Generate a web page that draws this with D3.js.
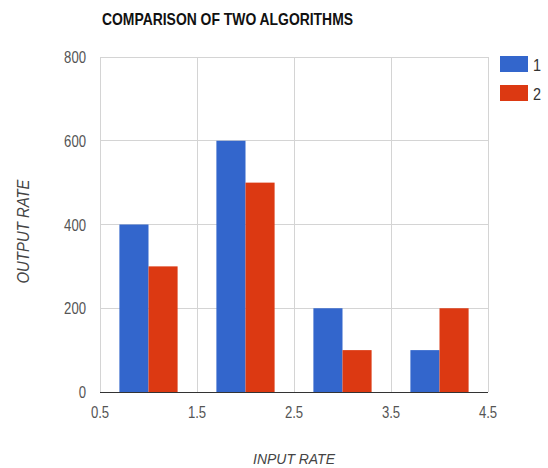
<!DOCTYPE html>
<html>
<head>
<meta charset="utf-8">
<script src="https://cdn.jsdelivr.net/npm/d3@7"></script>
<style>
  body { margin: 0; background: #fff; }
  svg text { font-family: "Liberation Sans", Arial, sans-serif; }
</style>
</head>
<body>
<svg id="chart" width="548" height="468"></svg>
<script>
// Input rates (category positions on the x axis)
const inputRates = [1, 2, 3, 4];
// Output rate for each algorithm
const series1 = [400, 600, 200, 100];
const series2 = [300, 500, 100, 200];
const seriesNames = ["1", "2"];
const seriesColors = ["#3366cc", "#dc3912"];
const xTicks = [0.5, 1.5, 2.5, 3.5, 4.5];
const yTicks = [0, 200, 400, 600, 800];

const svg = d3.select("#chart");
const margin = { left: 100, right: 60, top: 57, bottom: 76 };
const W = 548, H = 468;

const x = d3.scaleLinear().domain([0.5, 4.5]).range([margin.left, W - margin.right]);
const y = d3.scaleLinear().domain([0, 800]).range([H - margin.bottom, margin.top]);

// narrow the glyphs of a text selection to a fraction of their natural width
function condense(sel, k) {
  sel.each(function () {
    const w = this.getComputedTextLength();
    d3.select(this).attr("textLength", w * k).attr("lengthAdjust", "spacingAndGlyphs");
  });
}

// gridlines
svg.append("g").selectAll("line").data(yTicks.filter(d => d > 0)).join("line")
  .attr("x1", x(0.5)).attr("x2", x(4.5))
  .attr("y1", d => y(d)).attr("y2", d => y(d))
  .attr("stroke", "#d4d4d4").attr("stroke-width", 1).attr("shape-rendering", "crispEdges");
svg.append("g").selectAll("line").data(xTicks).join("line")
  .attr("x1", d => x(d)).attr("x2", d => x(d))
  .attr("y1", y(0)).attr("y2", y(800))
  .attr("stroke", "#d4d4d4").attr("stroke-width", 1).attr("shape-rendering", "crispEdges");

// bars
const barW = 0.3;
const rows = inputRates.map((r, i) => ({ r, v: [series1[i], series2[i]] }));
rows.forEach(row => {
  row.v.forEach((v, s) => {
    svg.append("rect")
      .attr("x", x(row.r - barW + s * barW))
      .attr("width", x(row.r + barW) - x(row.r))
      .attr("y", y(v))
      .attr("height", y(0) - y(v))
      .attr("fill", seriesColors[s]);
  });
});

// baseline
svg.append("line")
  .attr("x1", x(0.5)).attr("x2", x(4.5))
  .attr("y1", y(0)).attr("y2", y(0))
  .attr("stroke", "#333").attr("stroke-width", 1).attr("shape-rendering", "crispEdges");

// tick labels
svg.append("g").selectAll("text").data(yTicks).join("text")
  .attr("x", x(0.5) - 14).attr("y", d => y(d) + 6)
  .attr("text-anchor", "end").attr("font-size", 16).attr("fill", "#555")
  .text(d => d)
  .call(condense, 0.82);
svg.append("g").selectAll("text").data(xTicks).join("text")
  .attr("x", d => x(d)).attr("y", y(0) + 26)
  .attr("text-anchor", "middle").attr("font-size", 16).attr("fill", "#555")
  .text(d => d3.format(".1f")(d))
  .call(condense, 0.82);

// axis titles
svg.append("text")
  .attr("x", x(2.5)).attr("y", 464)
  .attr("text-anchor", "middle").attr("font-size", 15).attr("font-style", "italic").attr("fill", "#444")
  .text("INPUT RATE")
  .call(condense, 0.93);
svg.append("text")
  .attr("transform", `translate(29,${y(400) + 7}) rotate(-90)`)
  .attr("text-anchor", "middle").attr("font-size", 16).attr("font-style", "italic").attr("fill", "#444")
  .text("OUTPUT RATE")
  .attr("textLength", 104).attr("lengthAdjust", "spacingAndGlyphs");

// title
svg.append("text")
  .attr("x", 102).attr("y", 25)
  .attr("font-size", 16.5).attr("font-weight", "bold").attr("fill", "#111")
  .text("COMPARISON OF TWO ALGORITHMS")
  .attr("textLength", 251).attr("lengthAdjust", "spacingAndGlyphs");

// legend
const lg = svg.append("g").selectAll("g").data(seriesNames).join("g")
  .attr("transform", (d, i) => `translate(500,${56 + i * 29})`);
lg.append("rect").attr("width", 28).attr("height", 16).attr("fill", (d, i) => seriesColors[i]);
lg.append("text").attr("x", 33).attr("y", 15).attr("font-size", 17).attr("fill", "#333").text(d => d)
  .call(condense, 0.85);
</script>
</body>
</html>
